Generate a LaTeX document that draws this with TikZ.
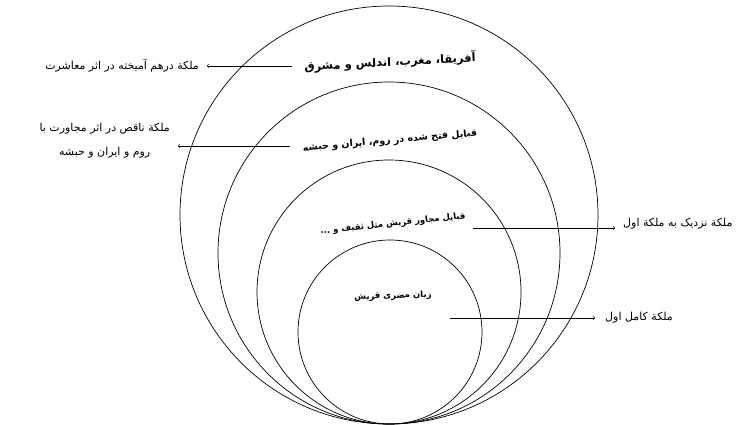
\documentclass[tikz,border=0pt]{standalone}
\usepackage{fontspec}
\newfontfamily\farsi[Script=Arabic]{DejaVu Sans}
\TeXXeTstate=1
\usetikzlibrary{positioning}
\tikzset{>=to}
\tikzset{ring/.style={circle, draw, line width=0.7pt, inner sep=0pt},
  zone/.style={font=\farsi\bfseries\fontsize{8.5}{10}\selectfont},
  remark/.style={font=\farsi\fontsize{11}{24}\selectfont, align=center},
  pointer/.style={->, line width=0.6pt}}
\newcommand{\fa}[1]{\beginR #1\endR}

\begin{document}
\begin{tikzpicture}[x=1pt, y=-1pt]
  \useasboundingbox[fill=white] (0,0) rectangle (747,425);
  % nested circles, all touching at the bottom
  \node[ring, minimum size=418pt] (c1) at (389,215) {};
  \node[ring, minimum size=342pt] (c2) at (389,253) {};
  \node[ring, minimum size=264pt] (c3) at (389,292) {};
  \node[ring, minimum size=184pt] (c4) at (390,332) {};
  % labels inside the circles
  \node[zone, font=\farsi\bfseries\fontsize{11.5}{13}\selectfont, rotate=3] (z1) at (390,62) {\fa{آفریقا، مغرب، اندلس و مشرق}};
  \node[zone, font=\farsi\bfseries\fontsize{9.5}{11}\selectfont, rotate=5] (z2) at (390,141) {\fa{قبایل فتح شده در روم، ایران و حبشه}};
  \node[zone, rotate=6] (z3) at (393,224) {\fa{قبایل مجاور قریش مثل ثقیف و ...}};
  \node[zone, rotate=2] (z4) at (393,296) {\fa{زبان مضری قریش}};
  % remarks outside
  \node[remark, anchor=east, inner sep=8pt] (r1) at (207,66) {\fa{ملکة درهم آمیخته در اثر معاشرت}};
  \node[remark, anchor=east, inner sep=8pt] (r2) at (178,141) {\fa{ملکة ناقص در اثر مجاورت با}\\\fa{روم و ایران و حبشه}};
  \node[remark, anchor=west, inner sep=8pt] (r3) at (615,224) {\fa{ملکة نزدیک به ملکة اول}};
  \node[remark, anchor=west, inner sep=10pt] (r4) at (595,318) {\fa{ملکة کامل اول}};
  \coordinate (s1) at (292,66);
  \coordinate (s2) at (290,146);
  \coordinate (s3) at (473,228);
  \coordinate (s4) at (450,318);
  \draw[pointer] (s1) -- (r1.east);
  \draw[pointer] (s2) -- (r2.east |- s2);
  \draw[pointer] (s3) -- (r3.west |- s3);
  \draw[pointer] (s4) -- (r4.west);
\end{tikzpicture}
\end{document}
